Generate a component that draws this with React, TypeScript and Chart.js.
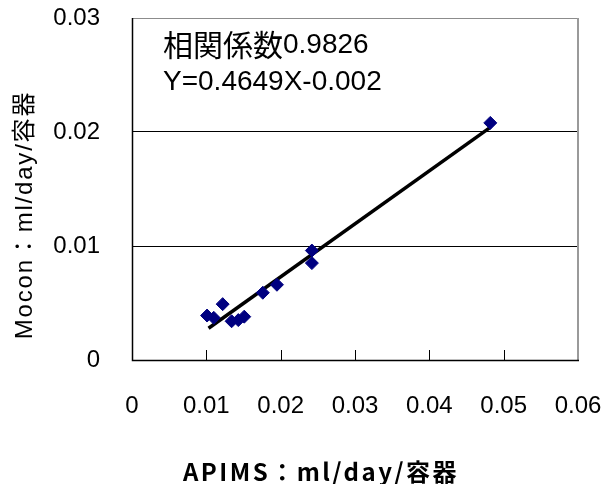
import React, { useEffect, useRef } from 'react';
import { Chart, registerables } from 'chart.js';

Chart.register(...registerables);

// ---- data ----
const apimsValues = [0.0101, 0.011, 0.0122, 0.0134, 0.0143, 0.0151, 0.0176, 0.0195, 0.0242, 0.0242, 0.0482];
const moconValues = [0.0039, 0.0037, 0.0049, 0.0034, 0.0035, 0.0038, 0.0059, 0.0066, 0.0085, 0.0096, 0.0208];
const xTickValues = [0, 0.01, 0.02, 0.03, 0.04, 0.05, 0.06];
const yTickValues = [0, 0.01, 0.02, 0.03];
const slope = 0.4649;
const intercept = -0.002;
const trendRange = [0.0103, 0.0482];
const correlationName = '相関係数';
const correlationValue = '0.9826';
const equationLabel = 'Y=0.4649X-0.002';
const xTitle = 'APIMS：ml/day/容器';
const yTitle = 'Mocon：ml/day/容器';

const LATIN = '"Liberation Sans", Arial, "Noto Sans CJK JP", sans-serif';
const CJK = '"Noto Sans CJK JP", "Liberation Sans", sans-serif';

const decor = {
  id: 'decor',
  afterDraw(chart: any) {
    const { ctx, chartArea } = chart;
    const { left, right, top, bottom } = chartArea;
    const xs = chart.scales.x;
    ctx.save();
    // top border (gray)
    ctx.strokeStyle = '#8c8c8c';
    ctx.lineWidth = 1;
    ctx.beginPath();
    ctx.moveTo(left, top + 0.5);
    ctx.lineTo(right, top + 0.5);
    ctx.stroke();
    // right border (gray, thick)
    ctx.strokeStyle = '#9a9a9a';
    ctx.lineWidth = 2;
    ctx.beginPath();
    ctx.moveTo(right, top);
    ctx.lineTo(right, bottom);
    ctx.stroke();
    // left + bottom borders (black)
    ctx.strokeStyle = '#000';
    ctx.lineWidth = 1.5;
    ctx.beginPath();
    ctx.moveTo(left + 0.5, top);
    ctx.lineTo(left + 0.5, bottom + 0.5);
    ctx.lineTo(right + 1, bottom + 0.5);
    ctx.stroke();
    // inner x ticks
    ctx.lineWidth = 1;
    xTickValues.slice(1, -1).forEach((v) => {
      const px = Math.round(xs.getPixelForValue(v)) + 0.5;
      ctx.beginPath();
      ctx.moveTo(px, bottom);
      ctx.lineTo(px, bottom - 10);
      ctx.stroke();
    });
    // annotation
    ctx.fillStyle = '#000';
    ctx.textAlign = 'left';
    ctx.textBaseline = 'middle';
    ctx.font = `30px ${CJK}`;
    ctx.fillText(correlationName, left + 31, 45);
    const nameW = ctx.measureText(correlationName).width;
    ctx.font = `28px ${LATIN}`;
    ctx.fillText(correlationValue, left + 31 + nameW, 45);
    ctx.fillText(equationLabel, left + 31, 82);
    // x title
    ctx.textAlign = 'center';
    ctx.font = `bold 24px ${CJK}`;
    (ctx as any).letterSpacing = '2.5px';
    ctx.fillText(xTitle, 321, 472);
    // y title
    ctx.translate(25, 215);
    ctx.rotate(-Math.PI / 2);
    ctx.font = `24px ${LATIN}`;
    (ctx as any).letterSpacing = '1.8px';
    ctx.fillText(yTitle, 0, 0);
    ctx.restore();
  },
};

const fmt = (v: number) => (v === 0 ? '0' : Number(v).toFixed(2));

export default function App() {
  const ref = useRef<HTMLCanvasElement>(null);
  useEffect(() => {
    if (!ref.current) return;
    const points = apimsValues.map((x, i) => ({ x, y: moconValues[i] }));
    const trend = trendRange.map((x) => ({ x, y: slope * x + intercept }));
    const chart = new Chart(ref.current, {
      type: 'scatter',
      data: {
        datasets: [
          {
            type: 'line',
            data: trend,
            borderColor: '#000',
            borderWidth: 3.5,
            pointRadius: 0,
            fill: false,
            order: 2,
          } as any,
          {
            data: points,
            pointStyle: 'rectRot',
            pointRadius: 6.5,
            pointHoverRadius: 6.5,
            backgroundColor: '#000080',
            borderColor: '#000080',
            borderWidth: 1,
            order: 1,
          },
        ],
      },
      options: {
        animation: false,
        responsive: true,
        maintainAspectRatio: false,
        events: [],
        layout: { padding: { top: 18, right: 28, left: 0, bottom: 0 } },
        plugins: { legend: { display: false }, tooltip: { enabled: false } },
        scales: {
          x: {
            type: 'linear',
            min: 0,
            max: 0.06,
            afterBuildTicks: (s: any) => {
              s.ticks = xTickValues.map((value) => ({ value }));
            },
            afterFit: (s: any) => {
              s.height = 124;
              s.paddingLeft = 0;
              s.paddingRight = 0;
            },
            grid: { display: false, drawTicks: false },
            border: { display: false },
            ticks: {
              color: '#000',
              padding: 32,
              maxRotation: 0,
              autoSkip: false,
              font: { family: LATIN, size: 24 },
              callback: (v: any) => fmt(Number(v)),
            },
          },
          y: {
            type: 'linear',
            min: 0,
            max: 0.03,
            afterBuildTicks: (s: any) => {
              s.ticks = yTickValues.map((value) => ({ value }));
            },
            afterFit: (s: any) => {
              s.width = 132;
              s.paddingTop = 0;
              s.paddingBottom = 0;
            },
            grid: { color: '#000', lineWidth: 1, drawTicks: false },
            border: { display: false },
            ticks: {
              color: '#000',
              padding: 32,
              autoSkip: false,
              font: { family: LATIN, size: 24 },
              callback: (v: any) => fmt(Number(v)),
            },
          },
        },
      },
      plugins: [decor],
    });
    return () => chart.destroy();
  }, []);
  return (
    <div style={{ position: 'fixed', left: 0, top: 0, width: 606, height: 484, background: '#fff' }}>
      <canvas ref={ref} />
    </div>
  );
}
